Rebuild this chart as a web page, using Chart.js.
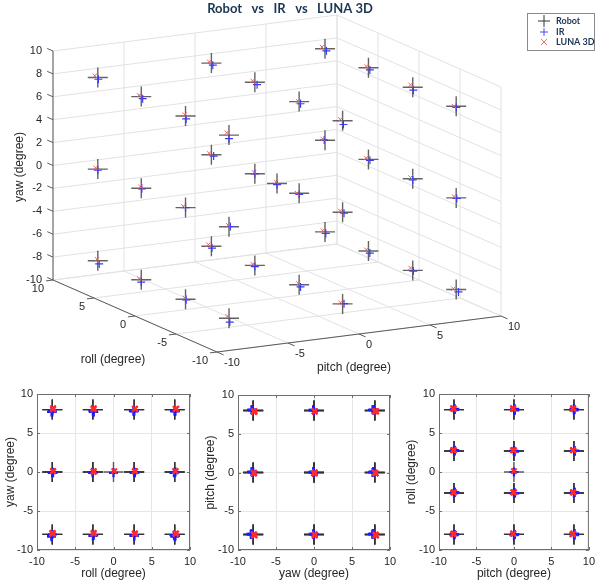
<!DOCTYPE html>
<html>
<head>
<meta charset="utf-8">
<script src="https://cdn.jsdelivr.net/npm/chart.js@4.4.1/dist/chart.umd.min.js"></script>
<style>
    html, body { margin: 0; padding: 0; background: #fff; }
    .wrap { position: relative; width: 600px; height: 586px; }
    .wrap canvas { position: absolute; left: 0; top: 0; }
</style>
</head>
<body>
<div class="wrap">
    <canvas id="c3d" width="600" height="586"></canvas>
    <canvas id="cRY" width="600" height="586"></canvas>
    <canvas id="cYP" width="600" height="586"></canvas>
    <canvas id="cPR" width="600" height="586"></canvas>
</div>
<script>
// poses: yaw 8/0/-8, pitch -8/0/8, roll 8/2.7/-2.7/-8, then the centre pose
const robotRoll = [
    8, 2.7, -2.7, -8, 8, 2.7, -2.7, -8, 8, 2.7, -2.7, -8,
    8, 2.7, -2.7, -8, 8, 2.7, -2.7, -8, 8, 2.7, -2.7, -8,
    8, 2.7, -2.7, -8, 8, 2.7, -2.7, -8, 8, 2.7, -2.7, -8, 0];
const robotPitch = [
    -8, -8, -8, -8, 0, 0, 0, 0, 8, 8, 8, 8,
    -8, -8, -8, -8, 0, 0, 0, 0, 8, 8, 8, 8,
    -8, -8, -8, -8, 0, 0, 0, 0, 8, 8, 8, 8, 0];
const robotYaw = [
    8, 8, 8, 8, 8, 8, 8, 8, 8, 8, 8, 8,
    0, 0, 0, 0, 0, 0, 0, 0, 0, 0, 0, 0,
    -8, -8, -8, -8, -8, -8, -8, -8, -8, -8, -8, -8, 0];

const irRoll = [
    8.1, 2.7, -2.6, -8.0, 8.0, 2.6, -2.7, -8.1, 8.0, 2.7, -2.6, -8.0,
    8.0, 2.8, -2.7, -8.0, 7.9, 2.7, -2.7, -8.0, 8.1, 2.7, -2.7, -7.9,
    8.0, 2.7, -2.6, -8.1, 8.1, 2.7, -2.7, -8.0, 7.9, 2.7, -2.6, -8.1, 0.0];
const irPitch = [
    -7.9, -7.9, -7.9, -8.0, 0.1, 0.1, 0.1, 0.0, 8.1, 8.1, 8.1, 8.0,
    -8.0, -7.9, -8.0, -7.9, 0.1, 0.0, 0.0, 0.1, 8.0, 8.1, 8.0, 8.1,
    -7.9, -8.0, -7.9, -8.0, 0.1, 0.0, 0.1, 0.1, 8.0, 8.1, 8.1, 8.1, 0.0];
const irYaw = [
    7.8, 7.8, 7.7, 7.7, 7.8, 7.8, 7.8, 7.7, 7.8, 7.8, 7.7, 7.9,
    -0.1, -0.1, 0.0, 0.0, -0.1, 0.0, -0.1, -0.1, 0.0, -0.1, -0.1, -0.1,
    -8.3, -8.2, -8.1, -8.3, -8.2, -8.1, -8.2, -8.0, -8.1, -8.2, -8.1, -8.2, -0.1];

const lunaRoll = [
    8.2, 2.8, -2.6, -7.9, 8.1, 2.8, -2.6, -7.9, 8.2, 2.8, -2.6, -7.9,
    8.1, 2.8, -2.6, -7.9, 8.1, 2.8, -2.6, -7.9, 8.1, 2.8, -2.6, -7.9,
    8.1, 2.8, -2.6, -8.0, 8.2, 2.8, -2.6, -7.9, 8.1, 2.8, -2.6, -8.0, 0.1];
const lunaPitch = [
    -8.1, -8.1, -8.0, -8.1, -0.1, -0.1, 0.0, -0.1, 7.9, 7.9, 7.9, 7.9,
    -8.1, -8.0, -8.1, -8.0, -0.1, 0.0, -0.1, -0.1, 7.9, 7.9, 7.9, 7.9,
    -8.0, -8.1, -8.0, -8.1, -0.1, -0.1, 0.0, -0.1, 7.9, 7.9, 7.9, 7.8, 0.0];
const lunaYaw = [
    8.1, 8.1, 8.1, 8.2, 8.1, 8.1, 8.0, 8.1, 8.1, 8.1, 8.2, 8.0,
    0.1, 0.1, 0.1, 0.1, 0.1, 0.1, 0.0, 0.1, 0.1, 0.1, 0.1, 0.1,
    -7.9, -7.9, -7.9, -7.8, -7.9, -7.9, -7.9, -7.9, -7.9, -7.9, -7.8, -7.9, 0.1];

const seriesNames = ["Robot", "IR", "LUNA 3D"];
const yawTicks3d = [-10, -8, -6, -4, -2, 0, 2, 4, 6, 8, 10];
const axisTicks3d = [-10, -5, 0, 5, 10];
const ticks2d = [-10, -5, 0, 5, 10];

const FONT = "'Liberation Sans', Arial, sans-serif";
const TITLE_FONT = "Lato, 'Noto Sans', sans-serif";
const TXT = "#262626";

// projection of the 3D box (orthographic view)
const ORIGIN = { x: 277, y: 183.5 };
const RV = { x: -8.2, y: -3.6 };
const PV = { x: 14.2, y: -1.8 };
const ZV = -11.45;
const proj = (r, p, w) => ({
    x: ORIGIN.x + r * RV.x + p * PV.x,
    y: ORIGIN.y + r * RV.y + p * PV.y + w * ZV,
});

const styles3d = [
    { color: "rgba(60,60,60,0.8)", style: "cross", radius: 10, width: 1.4, order: 3 },
    { color: "#3b3bf2", style: "cross", radius: 4, width: 1.2, order: 2 },
    { color: "#ef6262", style: "crossRot", radius: 3, width: 1, order: 1 },
];
const styles2d = [
    { color: "rgba(50,50,50,0.8)", style: "cross", radius: 10, width: 1.4, order: 3 },
    { color: "#1c1cff", style: "cross", radius: 4.5, width: 2.2, order: 2 },
    { color: "#ff2b2b", style: "crossRot", radius: 3.8, width: 2, order: 1 },
];

function makeSet(i, data, styles) {
    const s = styles[i];
    return {
        label: seriesNames[i],
        data: data,
        pointStyle: s.style,
        pointRadius: s.radius,
        pointBorderColor: s.color,
        pointBorderWidth: s.width,
        pointHoverRadius: s.radius,
        order: s.order,
    };
}

// ---------- 3D chart ----------
const pts3d = (R, P, Y) => R.map((r, i) => proj(r, P[i], Y[i]));

const box3d = {
    id: "box3d",
    beforeDatasetsDraw(chart) {
        const { ctx, scales: { x, y } } = chart;
        const pt = (r, p, w) => {
            const q = proj(r, p, w);
            return [x.getPixelForValue(q.x), y.getPixelForValue(q.y)];
        };
        const seg = (a, b) => {
            ctx.beginPath();
            ctx.moveTo(a[0], a[1]);
            ctx.lineTo(b[0], b[1]);
            ctx.stroke();
        };
        ctx.save();
        ctx.strokeStyle = "#e2e2e2";
        ctx.lineWidth = 1;
        axisTicks3d.forEach(t => {
            seg(pt(t, -10, -10), pt(t, 10, -10));
            seg(pt(t, 10, -10), pt(t, 10, 10));
            seg(pt(-10, t, -10), pt(10, t, -10));
            seg(pt(10, t, -10), pt(10, t, 10));
        });
        yawTicks3d.forEach(t => {
            seg(pt(10, -10, t), pt(10, 10, t));
            seg(pt(10, 10, t), pt(-10, 10, t));
        });

        ctx.strokeStyle = "#5a5a5a";
        seg(pt(10, -10, -10), pt(10, -10, 10));
        seg(pt(10, -10, -10), pt(-10, -10, -10));
        seg(pt(-10, -10, -10), pt(-10, 10, -10));

        ctx.fillStyle = TXT;
        ctx.font = "11px " + FONT;
        ctx.textBaseline = "middle";
        ctx.textAlign = "right";
        yawTicks3d.forEach(t => {
            const a = pt(10, -10, t);
            seg(a, pt(10.7, -10, t));
            ctx.fillText(String(t), a[0] - 11, a[1]);
        });
        axisTicks3d.forEach(t => {
            const a = pt(t, -10, -10);
            seg(a, pt(t, -10.5, -10));
            ctx.fillText(String(t), a[0] - 9, a[1] + 8.5);
        });
        ctx.textAlign = "left";
        axisTicks3d.forEach(t => {
            const a = pt(-10, t, -10);
            seg(a, pt(-10.8, t, -10));
            ctx.fillText(String(t), a[0] + 7, a[1] + 11);
        });

        ctx.font = "12px " + FONT;
        ctx.textAlign = "center";
        ctx.fillText("roll (degree)", 113, 360);
        ctx.fillText("pitch (degree)", 354, 368);
        ctx.save();
        ctx.translate(20, 167);
        ctx.rotate(-Math.PI / 2);
        ctx.fillText("yaw (degree)", 0, 0);
        ctx.restore();
        ctx.restore();
    },
    afterDraw(chart) {
        const { ctx } = chart;
        ctx.save();
        ctx.fillStyle = "#1c3553";
        ctx.font = "bold 13px " + TITLE_FONT;
        ctx.textAlign = "center";
        ctx.textBaseline = "middle";
        ctx.fillText("Robot   vs   IR   vs   LUNA 3D", 290, 9);

        // legend
        ctx.fillStyle = "#fff";
        ctx.fillRect(527.5, 13.5, 67, 37);
        ctx.strokeStyle = "#8a8a8a";
        ctx.lineWidth = 1;
        ctx.strokeRect(527.5, 13.5, 67, 37);
        const rows = [21, 32, 42];
        const lx = 544;
        ctx.strokeStyle = "#333";
        ctx.beginPath();
        ctx.moveTo(lx - 6, rows[0]); ctx.lineTo(lx + 6, rows[0]);
        ctx.moveTo(lx, rows[0] - 6); ctx.lineTo(lx, rows[0] + 6);
        ctx.stroke();
        ctx.strokeStyle = "#4a4af0";
        ctx.beginPath();
        ctx.moveTo(lx - 4, rows[1]); ctx.lineTo(lx + 4, rows[1]);
        ctx.moveTo(lx, rows[1] - 4); ctx.lineTo(lx, rows[1] + 4);
        ctx.stroke();
        ctx.strokeStyle = "#ee7070";
        ctx.beginPath();
        ctx.moveTo(lx - 3, rows[2] - 3); ctx.lineTo(lx + 3, rows[2] + 3);
        ctx.moveTo(lx + 3, rows[2] - 3); ctx.lineTo(lx - 3, rows[2] + 3);
        ctx.stroke();
        ctx.fillStyle = "#1c3553";
        ctx.font = "bold 9px " + TITLE_FONT;
        ctx.textAlign = "left";
        seriesNames.forEach((n, i) => ctx.fillText(n, 556, rows[i]));
        ctx.restore();
    },
};

new Chart(document.getElementById("c3d"), {
    type: "scatter",
    data: {
        datasets: [
            makeSet(0, pts3d(robotRoll, robotPitch, robotYaw), styles3d),
            makeSet(1, pts3d(irRoll, irPitch, irYaw), styles3d),
            makeSet(2, pts3d(lunaRoll, lunaPitch, lunaYaw), styles3d),
        ],
    },
    options: {
        responsive: false,
        animation: false,
        events: [],
        layout: { padding: 0, autoPadding: false },
        plugins: { legend: { display: false }, tooltip: { enabled: false } },
        scales: {
            x: { type: "linear", display: false, min: 0, max: 600 },
            y: { type: "linear", display: false, min: 0, max: 586, reverse: true },
        },
    },
    plugins: [box3d],
});

// ---------- 2D projections ----------
const frame = {
    id: "frame",
    beforeDatasetsDraw(chart) {
        const { ctx, chartArea: a, scales: { x, y } } = chart;
        ctx.save();
        ctx.strokeStyle = "#6e6e6e";
        ctx.lineWidth = 1;
        ctx.strokeRect(a.left + 0.5, a.top + 0.5, a.width - 1, a.height - 1);
        ticks2d.forEach(t => {
            const px = Math.round(x.getPixelForValue(t)) + 0.5;
            const py = Math.round(y.getPixelForValue(t)) + 0.5;
            ctx.beginPath();
            ctx.moveTo(px, a.bottom); ctx.lineTo(px, a.bottom - 3);
            ctx.moveTo(px, a.top); ctx.lineTo(px, a.top + 3);
            ctx.moveTo(a.left, py); ctx.lineTo(a.left + 3, py);
            ctx.moveTo(a.right, py); ctx.lineTo(a.right - 3, py);
            ctx.stroke();
        });
        ctx.restore();
    },
};

const zip = (X, Y) => X.map((v, i) => ({ x: v, y: Y[i] }));

function panel(id, box, xTitle, yTitle, sets) {
    new Chart(document.getElementById(id), {
        type: "scatter",
        data: { datasets: sets.map((s, i) => makeSet(i, zip(s[0], s[1]), styles2d)) },
        options: {
            responsive: false,
            animation: false,
            events: [],
            layout: {
                autoPadding: false,
                padding: { left: box.axisLeft, top: box.top, right: 600 - box.right, bottom: 586 - box.bottom - 36 },
            },
            plugins: { legend: { display: false }, tooltip: { enabled: false } },
            scales: {
                x: {
                    type: "linear", min: -10, max: 10,
                    afterFit: s => { s.height = 36; },
                    afterBuildTicks: s => { s.ticks = ticks2d.map(v => ({ value: v })); },
                    grid: { color: "#e6e6e6", drawTicks: false },
                    border: { display: false },
                    ticks: { color: TXT, font: { family: FONT, size: 11 }, padding: 5 },
                    title: { display: true, text: xTitle, color: TXT, font: { family: FONT, size: 12 }, padding: { top: 0, bottom: 5 } },
                },
                y: {
                    type: "linear", min: -10, max: 10,
                    afterFit: s => { s.width = box.left - box.axisLeft; },
                    afterBuildTicks: s => { s.ticks = ticks2d.map(v => ({ value: v })); },
                    grid: { color: "#e6e6e6", drawTicks: false },
                    border: { display: false },
                    ticks: { color: TXT, font: { family: FONT, size: 11 }, padding: 4 },
                    title: { display: true, text: yTitle, color: TXT, font: { family: FONT, size: 12 }, padding: { top: 3, bottom: 0 } },
                },
            },
        },
        plugins: [frame],
    });
}

panel("cRY", { axisLeft: 0, left: 37, right: 190, top: 394, bottom: 550 },
    "roll (degree)", "yaw (degree)",
    [[robotRoll, robotYaw], [irRoll, irYaw], [lunaRoll, lunaYaw]]);
panel("cYP", { axisLeft: 200, left: 238, right: 390, top: 395, bottom: 550 },
    "yaw (degree)", "pitch (degree)",
    [[robotYaw, robotPitch], [irYaw, irPitch], [lunaYaw, lunaPitch]]);
panel("cPR", { axisLeft: 401, left: 439, right: 593, top: 394, bottom: 550 },
    "pitch (degree)", "roll (degree)",
    [[robotPitch, robotRoll], [irPitch, irRoll], [lunaPitch, lunaRoll]]);
</script>
</body>
</html>
